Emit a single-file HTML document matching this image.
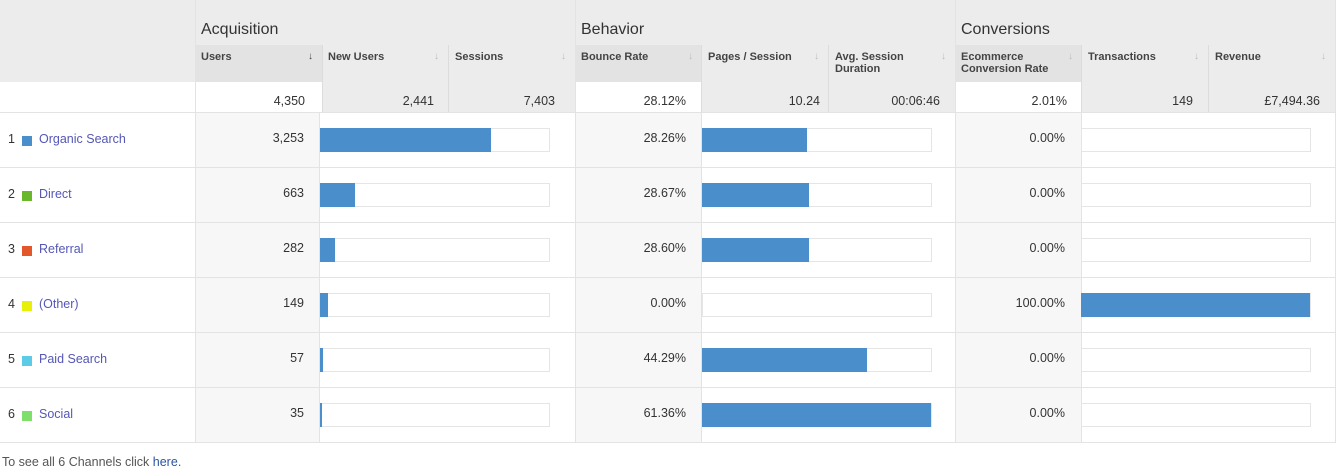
<!DOCTYPE html>
<html><head><meta charset="utf-8"><style>
*{margin:0;padding:0;box-sizing:border-box}
body{width:1344px;height:461px;background:#fff;font-family:"Liberation Sans",sans-serif;position:relative;overflow:hidden;color:#333}
.a{position:absolute}
.g{background:#ececec}
.d{background:#e3e3e3}
.w{background:#fff}
.lg{background:#f7f7f7}
.grp{font-size:16px;color:#333;top:21px}
.hd{font-size:11px;font-weight:bold;color:#444;line-height:12px;top:51px}
.ar{font-size:10px;color:#bbb;top:51px}
.tot{font-size:12.5px;color:#333;top:94px;text-align:right}
.vl{position:absolute;width:1px;background:#e3e3e3}
.hl{position:absolute;height:1px;background:#e3e3e3}
.num{font-size:12.5px;color:#333;text-align:right;margin-top:1px}
.box{position:absolute;height:24px;border:1px solid #e5e5e5;background:#fff}
.fill{position:absolute;height:24px;background:#4a8ecc}
.lab{font-size:12.5px;color:#5457b5;margin-top:1px}
.idx{font-size:12.5px;color:#333;margin-top:1px}
.sq{position:absolute;width:10px;height:10px;margin-top:1px}
</style></head><body>
<div class="a g" style="left:0;top:0;width:1335px;height:82px"></div>
<div class="a g" style="left:0;top:82px;width:1335px;height:30px"></div>
<div class="a w" style="left:0;top:82px;width:195px;height:30px"></div>
<div class="a d" style="left:196px;top:45px;width:126px;height:37px"></div>
<div class="a w" style="left:196px;top:82px;width:126px;height:30px"></div>
<div class="a d" style="left:576px;top:45px;width:125px;height:37px"></div>
<div class="a w" style="left:576px;top:82px;width:125px;height:30px"></div>
<div class="a d" style="left:956px;top:45px;width:125px;height:37px"></div>
<div class="a w" style="left:956px;top:82px;width:125px;height:30px"></div>
<div class="a lg" style="left:196px;top:112px;width:123px;height:330px"></div>
<div class="a lg" style="left:576px;top:112px;width:125px;height:330px"></div>
<div class="a lg" style="left:956px;top:112px;width:125px;height:330px"></div>
<div class="vl" style="left:195px;top:0;height:442px"></div>
<div class="vl" style="left:575px;top:0;height:442px"></div>
<div class="vl" style="left:955px;top:0;height:442px"></div>
<div class="vl" style="left:1335px;top:0;height:442px"></div>
<div class="vl" style="left:322px;top:45px;height:67px;background:#dcdcdc"></div>
<div class="vl" style="left:448px;top:45px;height:67px;background:#dcdcdc"></div>
<div class="vl" style="left:701px;top:45px;height:67px;background:#dcdcdc"></div>
<div class="vl" style="left:828px;top:45px;height:67px;background:#dcdcdc"></div>
<div class="vl" style="left:1081px;top:45px;height:67px;background:#dcdcdc"></div>
<div class="vl" style="left:1208px;top:45px;height:67px;background:#dcdcdc"></div>
<div class="vl" style="left:319px;top:112px;height:330px"></div>
<div class="vl" style="left:701px;top:112px;height:330px"></div>
<div class="vl" style="left:1081px;top:112px;height:330px"></div>
<div class="hl" style="left:0;top:112px;width:1336px"></div>
<div class="hl" style="left:0;top:167px;width:1336px"></div>
<div class="hl" style="left:0;top:222px;width:1336px"></div>
<div class="hl" style="left:0;top:277px;width:1336px"></div>
<div class="hl" style="left:0;top:332px;width:1336px"></div>
<div class="hl" style="left:0;top:387px;width:1336px"></div>
<div class="hl" style="left:0;top:442px;width:1336px"></div>
<div class="a grp" style="left:201px">Acquisition</div>
<div class="a grp" style="left:581px">Behavior</div>
<div class="a grp" style="left:961px">Conversions</div>
<div class="a hd" style="left:201px">Users</div><div class="a ar" style="left:308px;color:#444">↓</div>
<div class="a hd" style="left:328px">New Users</div><div class="a ar" style="left:434px">↓</div>
<div class="a hd" style="left:455px">Sessions</div><div class="a ar" style="left:561px">↓</div>
<div class="a hd" style="left:581px">Bounce Rate</div><div class="a ar" style="left:688px">↓</div>
<div class="a hd" style="left:708px">Pages / Session</div><div class="a ar" style="left:814px">↓</div>
<div class="a hd" style="left:835px">Avg. Session<br>Duration</div><div class="a ar" style="left:941px">↓</div>
<div class="a hd" style="left:961px">Ecommerce<br>Conversion Rate</div><div class="a ar" style="left:1068px">↓</div>
<div class="a hd" style="left:1088px">Transactions</div><div class="a ar" style="left:1194px">↓</div>
<div class="a hd" style="left:1215px">Revenue</div><div class="a ar" style="left:1321px">↓</div>
<div class="a tot" style="left:200px;width:105px">4,350</div>
<div class="a tot" style="left:330px;width:104px">2,441</div>
<div class="a tot" style="left:455px;width:100px">7,403</div>
<div class="a tot" style="left:580px;width:106px">28.12%</div>
<div class="a tot" style="left:710px;width:110px">10.24</div>
<div class="a tot" style="left:830px;width:110px">00:06:46</div>
<div class="a tot" style="left:960px;width:107px">2.01%</div>
<div class="a tot" style="left:1090px;width:103px">149</div>
<div class="a tot" style="left:1210px;width:110px">£7,494.36</div>

<div class="a idx" style="left:8px;top:131px">1</div><div class="sq" style="left:22px;top:135px;background:#4a8ecc"></div><div class="a lab" style="left:39px;top:131px">Organic Search</div>
<div class="a num" style="left:200px;top:130px;width:104px">3,253</div>
<div class="box" style="left:320px;top:128px;width:230px"></div><div class="fill" style="left:320px;top:128px;width:171px"></div>
<div class="a num" style="left:580px;top:130px;width:106px">28.26%</div>
<div class="box" style="left:702px;top:128px;width:230px"></div><div class="fill" style="left:702px;top:128px;width:105px"></div>
<div class="a num" style="left:960px;top:130px;width:105px">0.00%</div>
<div class="box" style="left:1081px;top:128px;width:230px"></div>

<div class="a idx" style="left:8px;top:186px">2</div><div class="sq" style="left:22px;top:190px;background:#6ab72a"></div><div class="a lab" style="left:39px;top:186px">Direct</div>
<div class="a num" style="left:200px;top:185px;width:104px">663</div>
<div class="box" style="left:320px;top:183px;width:230px"></div><div class="fill" style="left:320px;top:183px;width:35px"></div>
<div class="a num" style="left:580px;top:185px;width:106px">28.67%</div>
<div class="box" style="left:702px;top:183px;width:230px"></div><div class="fill" style="left:702px;top:183px;width:107px"></div>
<div class="a num" style="left:960px;top:185px;width:105px">0.00%</div>
<div class="box" style="left:1081px;top:183px;width:230px"></div>

<div class="a idx" style="left:8px;top:241px">3</div><div class="sq" style="left:22px;top:245px;background:#e2582a"></div><div class="a lab" style="left:39px;top:241px">Referral</div>
<div class="a num" style="left:200px;top:240px;width:104px">282</div>
<div class="box" style="left:320px;top:238px;width:230px"></div><div class="fill" style="left:320px;top:238px;width:15px"></div>
<div class="a num" style="left:580px;top:240px;width:106px">28.60%</div>
<div class="box" style="left:702px;top:238px;width:230px"></div><div class="fill" style="left:702px;top:238px;width:107px"></div>
<div class="a num" style="left:960px;top:240px;width:105px">0.00%</div>
<div class="box" style="left:1081px;top:238px;width:230px"></div>

<div class="a idx" style="left:8px;top:296px">4</div><div class="sq" style="left:22px;top:300px;background:#e8f00a"></div><div class="a lab" style="left:39px;top:296px">(Other)</div>
<div class="a num" style="left:200px;top:295px;width:104px">149</div>
<div class="box" style="left:320px;top:293px;width:230px"></div><div class="fill" style="left:320px;top:293px;width:8px"></div>
<div class="a num" style="left:580px;top:295px;width:106px">0.00%</div>
<div class="box" style="left:702px;top:293px;width:230px"></div>
<div class="a num" style="left:960px;top:295px;width:105px">100.00%</div>
<div class="box" style="left:1081px;top:293px;width:230px"></div><div class="fill" style="left:1081px;top:293px;width:229px"></div>

<div class="a idx" style="left:8px;top:351px">5</div><div class="sq" style="left:22px;top:355px;background:#5ccbe8"></div><div class="a lab" style="left:39px;top:351px">Paid Search</div>
<div class="a num" style="left:200px;top:350px;width:104px">57</div>
<div class="box" style="left:320px;top:348px;width:230px"></div><div class="fill" style="left:320px;top:348px;width:3px"></div>
<div class="a num" style="left:580px;top:350px;width:106px">44.29%</div>
<div class="box" style="left:702px;top:348px;width:230px"></div><div class="fill" style="left:702px;top:348px;width:165px"></div>
<div class="a num" style="left:960px;top:350px;width:105px">0.00%</div>
<div class="box" style="left:1081px;top:348px;width:230px"></div>

<div class="a idx" style="left:8px;top:406px">6</div><div class="sq" style="left:22px;top:410px;background:#7ee06a"></div><div class="a lab" style="left:39px;top:406px">Social</div>
<div class="a num" style="left:200px;top:405px;width:104px">35</div>
<div class="box" style="left:320px;top:403px;width:230px"></div><div class="fill" style="left:320px;top:403px;width:2px"></div>
<div class="a num" style="left:580px;top:405px;width:106px">61.36%</div>
<div class="box" style="left:702px;top:403px;width:230px"></div><div class="fill" style="left:702px;top:403px;width:229px"></div>
<div class="a num" style="left:960px;top:405px;width:105px">0.00%</div>
<div class="box" style="left:1081px;top:403px;width:230px"></div>

<div class="a" style="left:2px;top:455px;font-size:12.5px;color:#555">To see all 6 Channels click <span style="color:#2a55a0">here</span>.</div>
</body></html>
